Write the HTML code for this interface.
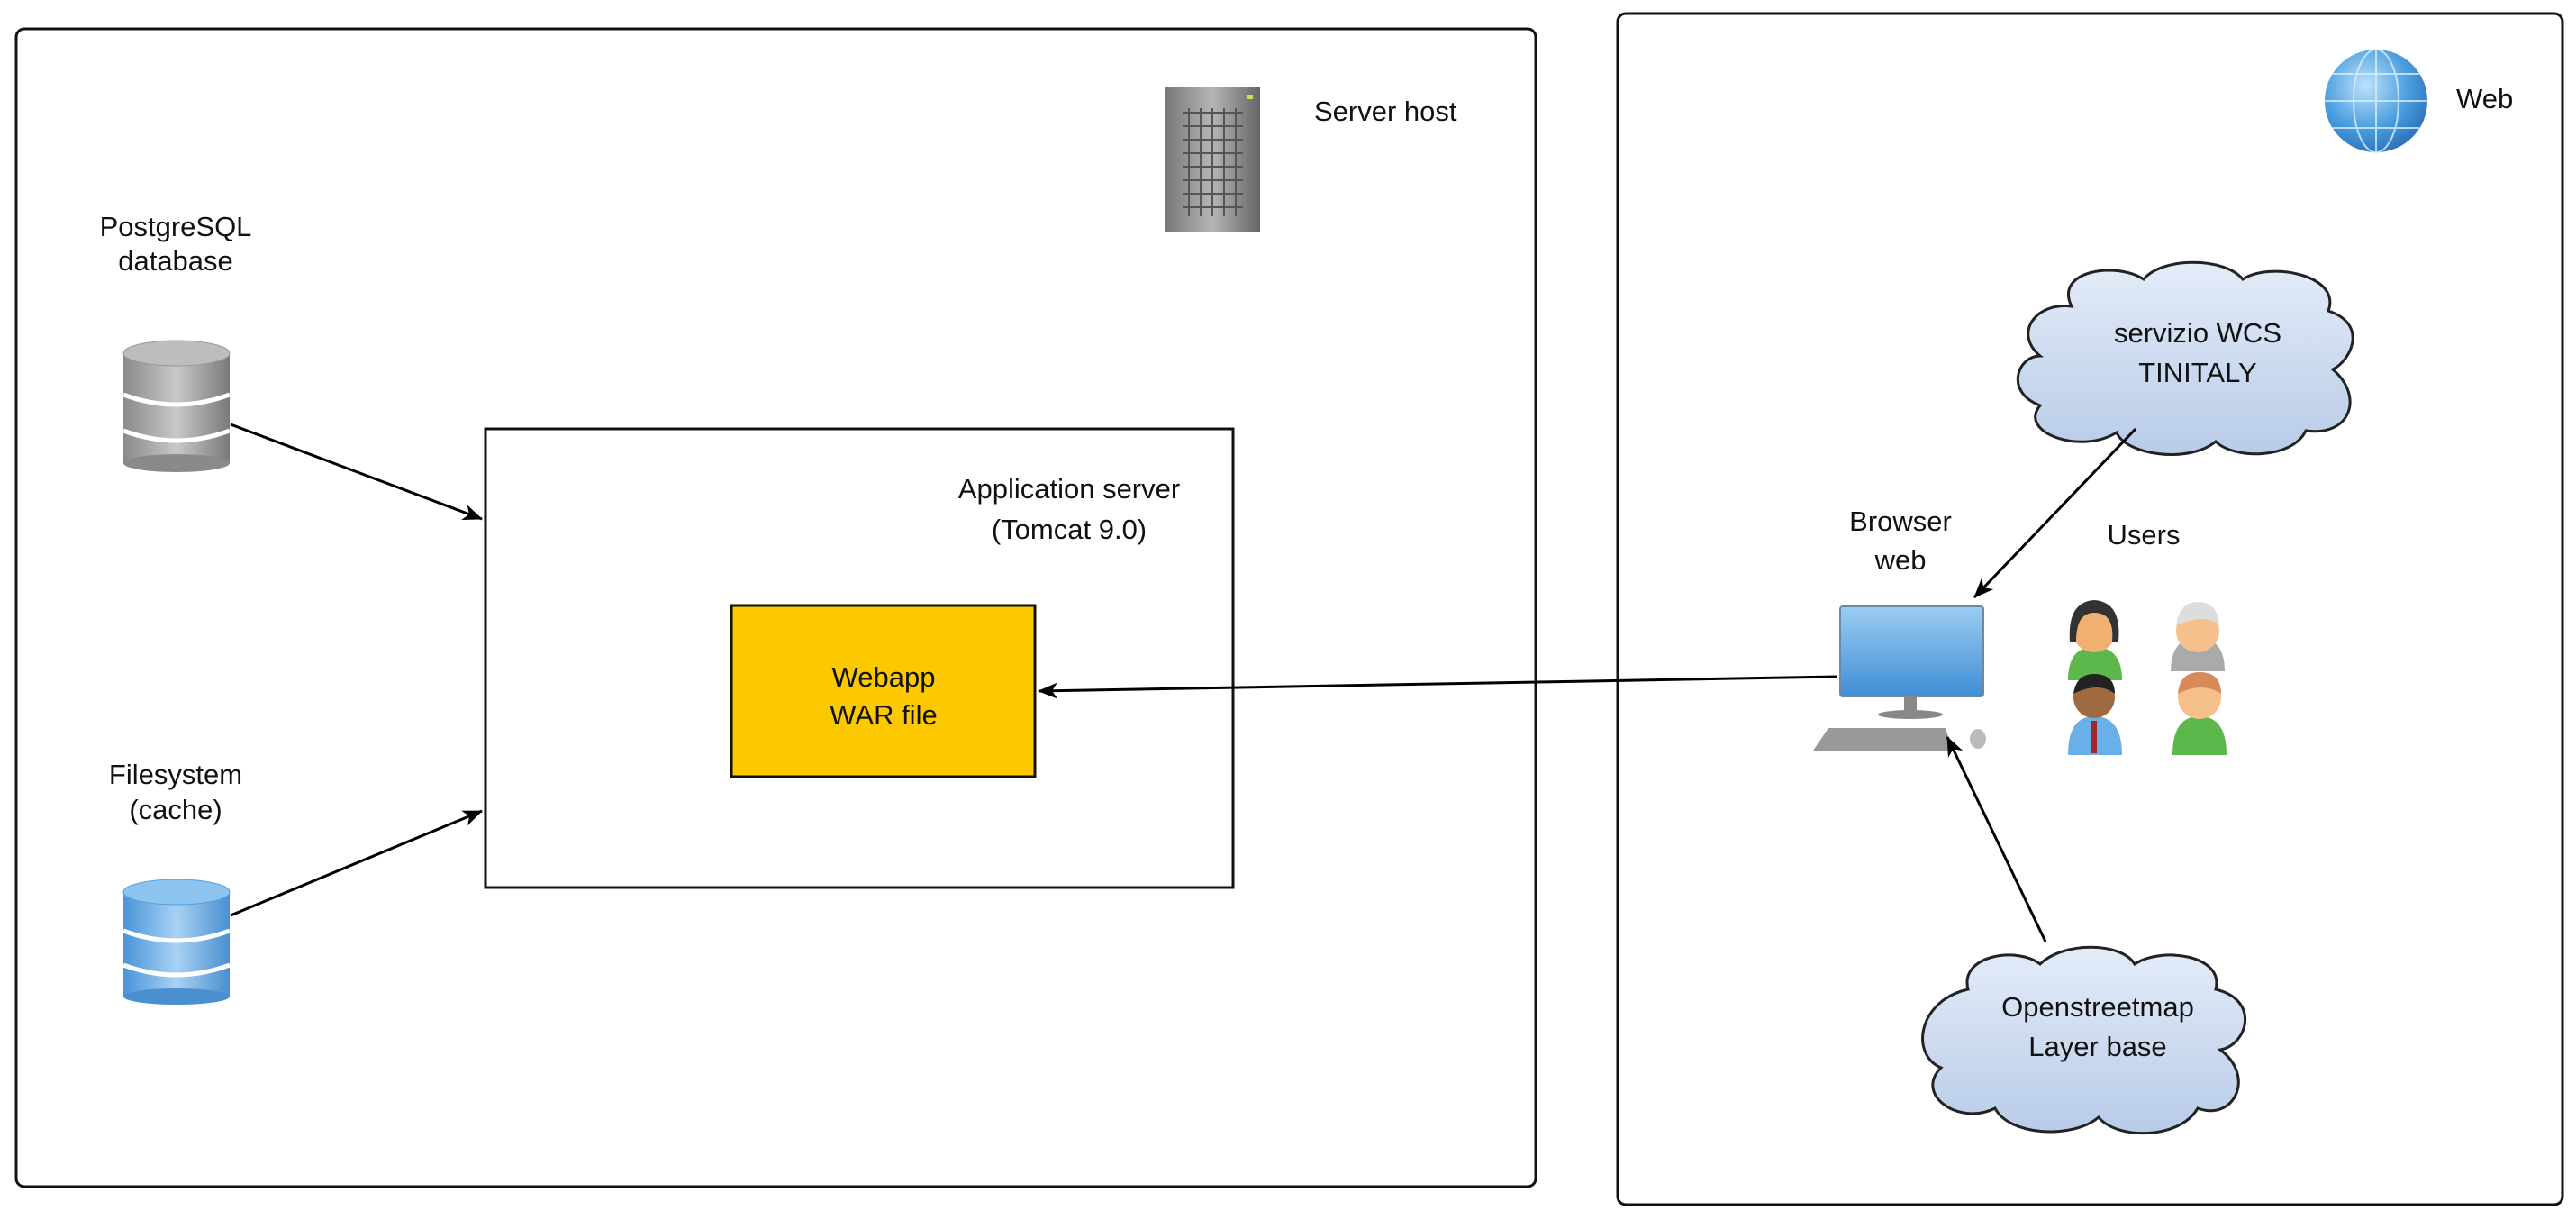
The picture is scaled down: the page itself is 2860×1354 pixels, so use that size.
<!DOCTYPE html>
<html><head><meta charset="utf-8"><style>
html,body{margin:0;padding:0;background:#fff;}
svg{display:block;}
text{font-family:"Liberation Sans",Arial,sans-serif;font-size:31px;fill:#111;}
</style></head><body>
<svg width="2860" height="1354" viewBox="0 0 2860 1354" xmlns="http://www.w3.org/2000/svg">
<defs>
<marker id="ah" markerWidth="22" markerHeight="18" refX="21" refY="9" orient="auto" markerUnits="userSpaceOnUse">
<path d="M0,0 L22,9 L0,18 L6,9 z" fill="#000"/>
</marker>
<linearGradient id="gray" x1="0" x2="1" y1="0" y2="0">
<stop offset="0" stop-color="#8a8a8a"/><stop offset="0.5" stop-color="#c8c8c8"/><stop offset="1" stop-color="#7a7a7a"/></linearGradient>
<linearGradient id="blue" x1="0" x2="1" y1="0" y2="0">
<stop offset="0" stop-color="#4a94d8"/><stop offset="0.5" stop-color="#a8d2f4"/><stop offset="1" stop-color="#4a8fd0"/></linearGradient>
<linearGradient id="cloud" x1="0" x2="0" y1="0" y2="1">
<stop offset="0" stop-color="#e4ecf8"/><stop offset="1" stop-color="#b8cbe8"/></linearGradient>
<linearGradient id="scr" x1="0" x2="0" y1="0" y2="1">
<stop offset="0" stop-color="#9cccf2"/><stop offset="1" stop-color="#3f8ed6"/></linearGradient>
<radialGradient id="globe" cx="0.4" cy="0.35" r="0.7">
<stop offset="0" stop-color="#bfe2fa"/><stop offset="0.6" stop-color="#4a9ee0"/><stop offset="1" stop-color="#2a6fb8"/></radialGradient>
<linearGradient id="srv" x1="0" x2="1"><stop offset="0" stop-color="#777"/><stop offset="0.5" stop-color="#b5b5b5"/><stop offset="1" stop-color="#666"/></linearGradient>
</defs>

<rect x="18" y="32" width="1687" height="1285" rx="9" fill="none" stroke="#111" stroke-width="3"/>
<rect x="1796" y="15" width="1049" height="1322" rx="9" fill="none" stroke="#111" stroke-width="3"/>

<rect x="1293" y="97" width="106" height="160" fill="url(#srv)"/>
<g stroke="#555" stroke-width="2">
<path d="M1313 125 H1380 M1313 140 H1380 M1313 155 H1380 M1313 170 H1380 M1313 185 H1380 M1313 200 H1380 M1313 215 H1380 M1313 230 H1380"/>
<path d="M1320 120 V240 M1333 120 V240 M1346 120 V240 M1359 120 V240 M1372 120 V240"/>
</g>
<rect x="1385" y="105" width="6" height="5" fill="#cde060"/>
<text x="1459" y="134">Server host</text>

<text x="195" y="262" text-anchor="middle">PostgreSQL</text>
<text x="195" y="300" text-anchor="middle">database</text>
<g>
<rect x="137" y="392" width="118" height="122" fill="url(#gray)"/>
<ellipse cx="196" cy="392" rx="59" ry="14" fill="#bdbdbd" stroke="#999"/>
<path d="M137 438 Q196 460 255 438 M137 478 Q196 500 255 478" stroke="#fff" stroke-width="5" fill="none"/>
<ellipse cx="196" cy="514" rx="59" ry="10" fill="#8a8a8a"/>
</g>

<text x="195" y="870" text-anchor="middle">Filesystem</text>
<text x="195" y="909" text-anchor="middle">(cache)</text>
<g>
<rect x="137" y="990" width="118" height="116" fill="url(#blue)"/>
<ellipse cx="196" cy="990" rx="59" ry="14" fill="#8cc4ef" stroke="#5a9fd8"/>
<path d="M137 1033 Q196 1055 255 1033 M137 1071 Q196 1093 255 1071" stroke="#fff" stroke-width="5" fill="none"/>
<ellipse cx="196" cy="1106" rx="59" ry="9" fill="#4a8fd0"/>
</g>

<rect x="539" y="476" width="830" height="509" fill="none" stroke="#111" stroke-width="3"/>
<text x="1187" y="553" text-anchor="middle">Application server</text>
<text x="1187" y="598" text-anchor="middle">(Tomcat 9.0)</text>
<rect x="812" y="672" width="337" height="190" fill="#fcc800" stroke="#111" stroke-width="3"/>
<text x="981" y="762" text-anchor="middle">Webapp</text>
<text x="981" y="804" text-anchor="middle">WAR file</text>

<text x="2110" y="589" text-anchor="middle">Browser</text>
<text x="2110" y="632" text-anchor="middle">web</text>
<rect x="2043" y="673" width="159" height="100" rx="3" fill="url(#scr)" stroke="#6a8aa8" stroke-width="2"/>
<rect x="2114" y="773" width="14" height="18" fill="#888"/>
<ellipse cx="2121" cy="793" rx="36" ry="5" fill="#888"/>
<path d="M2030,808 L2160,808 L2168,833 L2013,833 Z" fill="#999"/>
<ellipse cx="2196" cy="820" rx="9" ry="11" fill="#bbb"/>

<circle cx="2638" cy="112" r="57" fill="url(#globe)"/>
<g stroke="#d8eefc" stroke-width="2" fill="none" opacity="0.8">
<ellipse cx="2638" cy="112" rx="25" ry="57"/>
<path d="M2581 112 H2695 M2590 82 H2686 M2590 142 H2686 M2638 55 V169"/>
</g>
<text x="2727" y="120">Web</text>

<g fill="url(#cloud)" stroke="#222" stroke-width="3">
<path d="M2300,340 C2280,300 2350,290 2380,310 C2400,285 2470,285 2490,310 C2520,290 2600,305 2585,345 C2630,360 2610,400 2590,410 C2625,440 2610,485 2560,478 C2545,510 2480,510 2460,490 C2430,515 2360,505 2350,480 C2310,505 2240,480 2265,450 C2225,435 2240,395 2265,395 C2235,370 2260,335 2300,340 Z"/>
<path d="M2185,1098 C2175,1060 2240,1050 2265,1070 C2290,1045 2355,1045 2370,1070 C2400,1050 2470,1060 2460,1098 C2510,1110 2495,1160 2465,1165 C2505,1195 2480,1245 2440,1230 C2420,1265 2350,1265 2330,1240 C2300,1265 2230,1260 2215,1230 C2175,1250 2125,1215 2155,1185 C2120,1170 2130,1110 2185,1098 Z"/>
</g>
<text x="2440" y="380" text-anchor="middle">servizio WCS</text>
<text x="2440" y="424" text-anchor="middle">TINITALY</text>
<text x="2329" y="1128" text-anchor="middle">Openstreetmap</text>
<text x="2329" y="1172" text-anchor="middle">Layer base</text>

<text x="2380" y="604" text-anchor="middle">Users</text>
<g>
<path d="M2410 745 Q2410 708 2440 708 Q2470 708 2470 745 Z" fill="#aaa"/>
<circle cx="2440" cy="700" r="24" fill="#f5c08a"/>
<path d="M2416 694 Q2420 668 2440 668 Q2462 668 2464 694 Q2450 680 2416 694" fill="#ddd"/>
<path d="M2296 755 Q2296 718 2325 718 Q2356 718 2356 755 Z" fill="#5cb84a"/>
<circle cx="2325" cy="700" r="24" fill="#f0b070"/>
<path d="M2298 712 Q2295 668 2325 666 Q2356 668 2352 712 L2345 712 Q2348 680 2325 680 Q2305 680 2305 712 Z" fill="#333"/>
<path d="M2296 838 Q2296 795 2325 795 Q2356 795 2356 838 Z" fill="#6ab0e8"/>
<rect x="2321" y="800" width="7" height="36" fill="#a02828"/>
<circle cx="2325" cy="774" r="23" fill="#a06a40"/>
<path d="M2302 770 Q2305 748 2325 748 Q2348 748 2348 770 Q2330 756 2302 770" fill="#222"/>
<path d="M2412 838 Q2412 795 2442 795 Q2472 795 2472 838 Z" fill="#5cb84a"/>
<circle cx="2442" cy="774" r="24" fill="#f5c08a"/>
<path d="M2418 770 Q2420 746 2442 746 Q2466 746 2466 770 Q2445 756 2418 770" fill="#d88a5a"/>
</g>

<g stroke="#000" stroke-width="3" fill="none" marker-end="url(#ah)">
<line x1="256" y1="471" x2="535" y2="576"/>
<line x1="256" y1="1016" x2="535" y2="900"/>
<line x1="2040" y1="751" x2="1153" y2="767"/>
<line x1="2371" y1="476" x2="2192" y2="663"/>
<line x1="2271" y1="1045" x2="2162" y2="818"/>
</g>
</svg>
</body></html>
